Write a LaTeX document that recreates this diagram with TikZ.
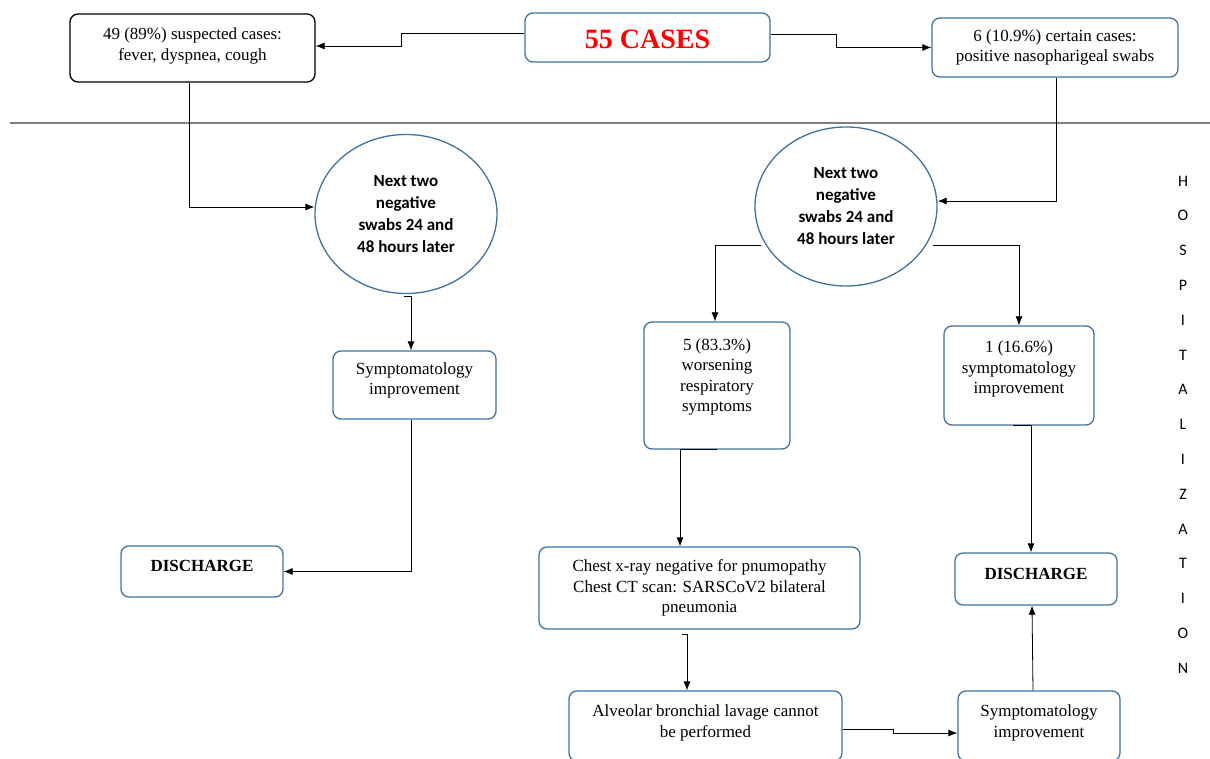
\documentclass[tikz,border=0pt]{standalone}
\usepackage{fontspec}
\setmainfont{Liberation Serif}
\newfontfamily\ellfont{Carlito}
\usetikzlibrary{shapes.geometric,arrows.meta}
\definecolor{boxblue}{HTML}{41719C}
\newcommand\liftup[2]{\raisebox{#1}[\height][\depth]{\begin{tabular}{@{}c@{}}#2\end{tabular}}}

\begin{document}
\begin{tikzpicture}[x=1pt,y=-1pt]

\tikzset{box/.style={draw=boxblue,line width=1.3pt,rounded corners=8pt,align=center,
  inner sep=0pt,font=\fontsize{17}{20.5}\selectfont}}
\tikzset{swab/.style={ellipse,draw=boxblue,line width=1.3pt,align=center,inner sep=0pt,
  minimum width=182pt,minimum height=159pt,font=\ellfont\bfseries\fontsize{17}{22}\selectfont}}
\tikzset{link/.style={line width=0.8pt,-{Latex[length=9pt,width=7pt]}}}
\tikzset{letter/.style={font=\ellfont\fontsize{16}{16}\selectfont}}

\useasboundingbox (0,0) rectangle (1210,759);

% top row
\node[box,minimum width=245pt,minimum height=49pt,text height=24pt,text depth=2pt,
  text=red,font=\bfseries\fontsize{28}{30}\selectfont] (total) at (647.5,37.5) {55 CASES};
\node[box,draw=black,minimum width=245pt,minimum height=68pt] (suspected) at (192.5,48)
  {\liftup{2pt}{49 (89\%) suspected cases:\\fever, dyspnea, cough}};
\node[box,minimum width=246pt,minimum height=59pt] (certain) at (1055,47.5)
  {6 (10.9\%) certain cases:\\positive nasopharigeal swabs};

\draw[gray,line width=1.2pt] (10,123) -- (1210,123);

% swabs
\node[swab] (swabsL) at (406,214) {Next two\\negative\\swabs 24 and\\48 hours later};
\node[swab] (swabsR) at (846,206.5) {Next two\\negative\\swabs 24 and\\48 hours later};

% left branch
\node[box,minimum width=163pt,minimum height=68pt] (improvL) at (414.5,385)
  {\liftup{4.5pt}{Symptomatology\\improvement}};
\node[box,minimum width=162pt,minimum height=51pt,text height=12pt,text depth=12pt,font=\bfseries\fontsize{17}{20.5}\selectfont] (dischargeL) at (202,571.5) {DISCHARGE};

% right branch
\node[box,minimum width=146pt,minimum height=127pt] (worsening) at (717,385.5)
  {\liftup{8.5pt}{5 (83.3\%)\\worsening\\respiratory\\symptoms}};
\node[box,minimum width=150pt,minimum height=99pt] (improvR) at (1019,375.5)
  {\liftup{6.5pt}{1 (16.6\%)\\symptomatology\\improvement}};
\node[box,minimum width=321pt,minimum height=82pt] (chest) at (699.5,588)
  {Chest x-ray negative for pnumopathy\\Chest CT scan: SARSCoV2 bilateral\\pneumonia};
\node[box,minimum width=273pt,minimum height=70pt] (lavage) at (705.5,726)
  {\liftup{3pt}{Alveolar bronchial lavage cannot\\be performed}};
\node[box,minimum width=162pt,minimum height=70pt] (improvB) at (1039,726)
  {\liftup{3pt}{Symptomatology\\improvement}};
\node[box,minimum width=162pt,minimum height=52pt,text height=12pt,text depth=12pt,font=\bfseries\fontsize{17}{20.5}\selectfont] (dischargeR) at (1036,579) {DISCHARGE};

% side label
\foreach \ch [count=\i from 0] in {H,O,S,P,I,T,A,L,I,Z,A,T,I,O,N}
  \node[letter] (hosp\i) at (1183,181+34.8*\i) {\ch};

% connectors
\draw[link] ([yshift=4.5pt]total.west) -- ++(-123,0) |- ([yshift=2pt]suspected.east);
\draw[link] ([yshift=3pt]total.east) -- ++(66,0) |- (certain.west);
\draw[link] ([xshift=-3.5pt]suspected.south) |- ([yshift=7pt]swabsL.west);
\draw[link] ([xshift=1pt]certain.south) |- ([yshift=5.5pt]swabsR.east);
\draw[link] ([shift={(-2,82)}]swabsL.center) -| ([xshift=-3.5pt]improvL.north);
\draw[link] ([xshift=-3.5pt]improvL.south) |- (dischargeL.east);
\draw[link] ([shift={(-85,38.5)}]swabsR.center) -| ([xshift=-2pt]worsening.north);
\draw[link] ([shift={(87,38.5)}]swabsR.center) -| (improvR.north);
\draw[link] (worsening.south) -| ([xshift=-19.5pt]chest.north);
\draw[link] ([shift={(-17.5,5)}]chest.south) -| ([xshift=-18.5pt]lavage.north);
\draw[link] ([yshift=-3pt]lavage.east) -- ++(51,0) |- ([yshift=-7pt]improvB.west);
\draw[link] ([xshift=-6pt]improvB.north) -- ([xshift=-4pt]dischargeR.south);
\draw[link] ([xshift=-6pt]improvR.south) -| ([xshift=-5pt]dischargeR.north);

\end{tikzpicture}
\end{document}
